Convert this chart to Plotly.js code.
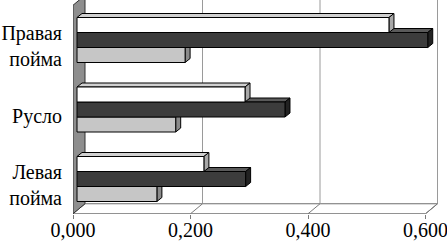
<!DOCTYPE html>
<html><head><meta charset="utf-8">
<script src="https://cdn.plot.ly/plotly-3.0.1.min.js"></script>
<style>html,body{margin:0;padding:0;background:#fff}#c{width:447px;height:248px}</style>
</head><body><div id="c"></div>
<script>
// ---- data (bottom to top) ----
var categories = ['Левая пойма', 'Русло', 'Правая пойма'];
var seriesLight = [0.136, 0.168, 0.184];
var seriesDark  = [0.287, 0.354, 0.597];
var seriesWhite = [0.216, 0.286, 0.531];
var xTickValues = [0, 0.2, 0.4, 0.6];
var xTickLabels = ['0,000', '0,200', '0,400', '0,600'];

// ---- geometry ----
var PX = 587.5, PY = 69.5;           // px per x unit, px per category
var Y0 = 179;                        // pixel of first category centre
var L = 73, R = 7, T = 0, B = 34;
var W = 447, H = 248;
var plotW = W - L - R, plotH = H - T - B;
var xr = [-4 / PX, (plotW - 4) / PX];
var yr = [(Y0 - (H - B)) / PY, Y0 / PY];
var fx = -4 / PX, fy = 0;            // front plane offset
var bx = 8 / PX, by = 10 / PY;       // back plane offset
var dxu = 5 / PX, dyu = 4 / PY;      // bar depth
var bw = 15 / PY;                    // bar thickness
var pos = categories.map(function(c, i){ return i; });

var series = [
  {name:'Ряд 1', v: seriesLight, front:'#c6c6c6', top:'#dedede', side:'#8a8a8a'},
  {name:'Ряд 2', v: seriesDark,  front:'#3c3c3c', top:'#5a5a5a', side:'#222222'},
  {name:'Ряд 3', v: seriesWhite, front:'#ffffff', top:'#d0d0d0', side:'#a8a8a8'}
];

var traces = series.map(function(s, i){
  return {type:'bar', orientation:'h', name:s.name, x:s.v, y:pos,
    width:bw, offset:(i - 1.5) * bw,
    marker:{color:s.front, line:{color:'#000', width:1}},
    hoverinfo:'x'};
});

var shapes = [];
var yb0 = -0.5, yt0 = categories.length - 0.5;
var xmax = xTickValues[xTickValues.length - 1];
function P(pts){ return 'M' + pts.map(function(p){return p[0] + ',' + p[1];}).join('L') + 'Z'; }
// floor
shapes.push({type:'path', layer:'between', xref:'x', yref:'y',
  path:P([[fx, yb0+fy],[xmax+fx, yb0+fy],[xmax+bx, yb0+by],[bx, yb0+by]]),
  fillcolor:'#ffffff', line:{color:'#6e6e6e', width:1}});
// back gridlines + floor diagonals
xTickValues.forEach(function(v){
  if (v === 0) return;
  shapes.push({type:'line', layer:'between', xref:'x', yref:'y',
    x0:v+bx, x1:v+bx, y0:yb0+by, y1:yr[1], line:{color:'#9a9a9a', width:1}});
  shapes.push({type:'line', layer:'between', xref:'x', yref:'y',
    x0:v+bx, x1:v+fx, y0:yb0+by, y1:yb0+fy, line:{color:'#7a7a7a', width:1}});
});
// left wall
shapes.push({type:'path', layer:'between', xref:'x', yref:'y',
  path:P([[fx, yb0+fy],[fx, yt0+fy],[bx, yt0+by],[bx, yb0+by]]),
  fillcolor:'#8e8e8e', line:{color:'#333', width:1}});
// bar top and side faces
series.forEach(function(s, i){
  s.v.forEach(function(v, k){
    var y0 = pos[k] + (i - 1.5) * bw, y1 = y0 + bw;
    shapes.push({type:'path', layer:'between', xref:'x', yref:'y',
      path:P([[0, y1],[v, y1],[v+dxu, y1+dyu],[dxu, y1+dyu]]),
      fillcolor:s.top, line:{color:'#000', width:1}});
    shapes.push({type:'path', layer:'between', xref:'x', yref:'y',
      path:P([[v, y0],[v+dxu, y0+dyu],[v+dxu, y1+dyu],[v, y1]]),
      fillcolor:s.side, line:{color:'#000', width:1}});
  });
});

var font = {family:'Liberation Serif', size:20, color:'#000'};
var layout = {
  width:W, height:H, margin:{l:L, r:R, t:T, b:B, pad:0},
  paper_bgcolor:'#fff', plot_bgcolor:'#fff', showlegend:false,
  barmode:'overlay', font:font,
  xaxis:{range:xr, tickvals:xTickValues.map(function(v){return v+fx;}), ticktext:xTickLabels,
    ticks:'outside', ticklen:4, tickcolor:'#7a7a7a', showgrid:false, zeroline:false,
    showline:false, tickfont:font, fixedrange:true, ticklabeloverflow:'allow',
    ticklabelstandoff:-6},
  yaxis:{range:yr, tickvals:pos.map(function(k){return k - 6/PY;}),
    ticktext:categories.map(function(c){return c.replace(' ', '<br>');}),
    ticks:'outside', ticklen:6, tickcolor:'rgba(0,0,0,0)', showgrid:false, zeroline:false,
    showline:false, tickfont:font, fixedrange:true},
  yaxis2:{overlaying:'y', side:'left', anchor:'x', range:yr,
    tickvals:[-0.5,0.5,1.5,2.5].map(function(k){return k + fy;}),
    ticks:'outside', ticklen:5, tickcolor:'#7a7a7a', showticklabels:false,
    showgrid:false, zeroline:false, showline:false, fixedrange:true},
  shapes:shapes
};
Plotly.newPlot('c', traces, layout, {displayModeBar:false, staticPlot:true});
</script></body></html>
